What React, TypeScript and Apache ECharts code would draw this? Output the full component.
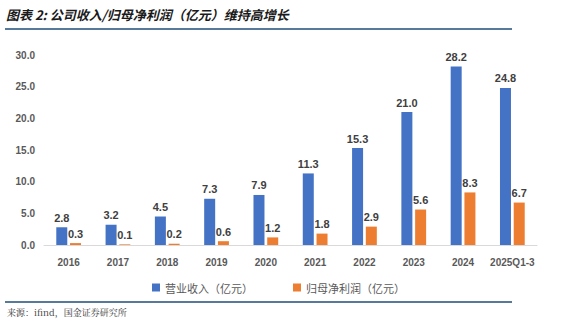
import React, { useEffect, useRef } from "react";
import * as echarts from "echarts";

const categories = ["2016", "2017", "2018", "2019", "2020", "2021", "2022", "2023", "2024", "2025Q1-3"];
const revenue = [2.8, 3.2, 4.5, 7.3, 7.9, 11.3, 15.3, 21.0, 28.2, 24.8];
const netProfit = [0.3, 0.1, 0.2, 0.6, 1.2, 1.8, 2.9, 5.6, 8.3, 6.7];
const seriesNames = ["营业收入（亿元）", "归母净利润（亿元）"];
const titleText = "图表 2: 公司收入/归母净利润（亿元）维持高增长";
const sourceText = "来源：ifind，国金证券研究所";

export default function App() {
  const ref = useRef<HTMLDivElement>(null);
  useEffect(() => {
    document.body.style.margin = "0";
    const chart = echarts.init(ref.current!, null, { renderer: "svg" });
    const labelStyle = {
      show: true,
      position: "top" as const,
      distance: 4,
      color: "#404040",
      fontSize: 11,
      fontWeight: "bold" as const,
      fontFamily: "Arial, 'Liberation Sans', sans-serif",
      formatter: (p: any) => Number(p.value).toFixed(1),
    };
    chart.setOption({
      animation: false,
      backgroundColor: "#ffffff",
      grid: { left: 44, right: 26, top: 55, bottom: 80 },
      legend: {
        left: 147,
        top: 277,
        itemWidth: 8,
        itemHeight: 8,
        itemGap: 40,
        icon: "rect",
        textStyle: { color: "#595959", fontSize: 11, fontFamily: "'Noto Sans CJK SC', sans-serif" },
        data: seriesNames,
      },
      xAxis: {
        type: "category",
        data: categories,
        axisLine: { lineStyle: { color: "#d9d9d9" } },
        axisTick: { show: false },
        axisLabel: {
          interval: 0,
          color: "#595959",
          fontSize: 10,
          fontWeight: "bold",
          margin: 12,
          fontFamily: "Arial, 'Liberation Sans', sans-serif",
        },
      },
      yAxis: {
        type: "value",
        min: 0,
        max: 30,
        interval: 5,
        splitLine: { show: false },
        axisLine: { show: false },
        axisTick: { show: false },
        axisLabel: {
          color: "#595959",
          fontSize: 10,
          fontWeight: "bold",
          margin: 9,
          fontFamily: "Arial, 'Liberation Sans', sans-serif",
          formatter: (v: number) => v.toFixed(1),
        },
      },
      series: [
        {
          name: seriesNames[0],
          type: "bar",
          data: revenue,
          barWidth: 11,
          barGap: "25%",
          itemStyle: { color: "#4472c4" },
          label: labelStyle,
        },
        {
          name: seriesNames[1],
          type: "bar",
          data: netProfit,
          barWidth: 11,
          itemStyle: { color: "#ed7d31" },
          label: labelStyle,
        },
      ],
      graphic: [
        {
          type: "text",
          left: 6,
          top: 8,
          style: {
            text: titleText,
            fill: "#1a1a1a",
            fontSize: 13,
            fontWeight: "bold",
            fontStyle: "italic",
            fontFamily: "'Noto Sans CJK SC', sans-serif",
          },
        },
        {
          type: "line",
          shape: { x1: 5, y1: 29, x2: 512, y2: 29 },
          style: { stroke: "#1f4e79", lineWidth: 1.5 },
        },
        {
          type: "line",
          shape: { x1: 5, y1: 302, x2: 512, y2: 302 },
          style: { stroke: "#1f4e79", lineWidth: 1.5 },
        },
        {
          type: "text",
          left: 7,
          top: 308,
          style: {
            text: sourceText,
            fill: "#333333",
            fontSize: 9,
            fontFamily: "'Noto Serif CJK SC', 'Noto Sans CJK SC', serif",
          },
        },
      ],
    });
    return () => chart.dispose();
  }, []);
  return <div ref={ref} style={{ width: 563, height: 325 }} />;
}
